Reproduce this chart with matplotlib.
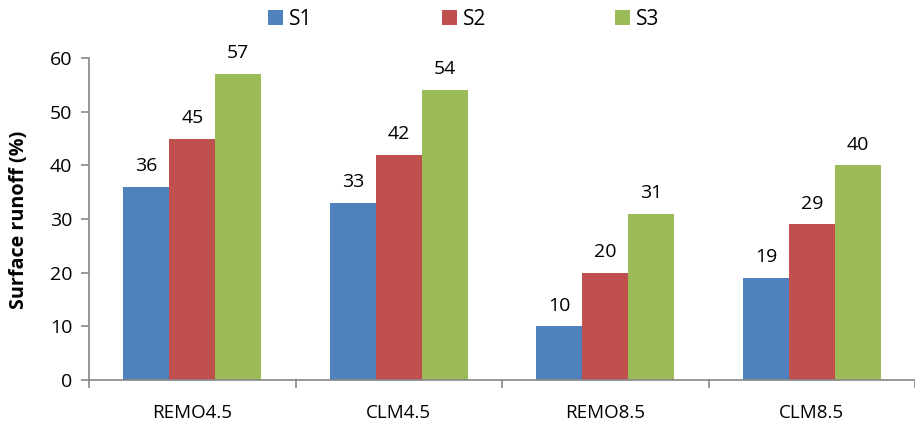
import matplotlib
matplotlib.use("Agg")
import matplotlib.pyplot as plt
import numpy as np

plt.rcParams['font.family'] = ['Open Sans', 'DejaVu Sans']

categories = ["REMO4.5", "CLM4.5", "REMO8.5", "CLM8.5"]
series_names = ["S1", "S2", "S3"]
s1 = [36, 33, 10, 19]
s2 = [45, 42, 20, 29]
s3 = [57, 54, 31, 40]
colors = ["#4F81BD", "#C0504D", "#9BBB59"]
y_ticks = [0, 10, 20, 30, 40, 50, 60]

fig = plt.figure(figsize=(9.15, 4.24), dpi=100)
ax = fig.add_axes([89 / 915, 44 / 424, (915 - 89) / 915, (380 - 58) / 424])

x = np.arange(len(categories))
w = 0.222
handles = []
for i, (vals, name, c) in enumerate(zip([s1, s2, s3], series_names, colors)):
    pos = x + (i - 1) * w
    b = ax.bar(pos, vals, width=w, color=c, label=name, zorder=2)
    handles.append(b)
    for xp, v in zip(pos, vals):
        ax.text(xp, v + 2.2, str(v), ha='center', va='bottom', fontsize=14, color='black')

ax.set_xlim(-0.5, len(categories) - 0.5)
ax.set_ylim(0, 60)
ax.set_yticks(y_ticks)
ax.set_yticklabels([str(t) for t in y_ticks], fontsize=14)
ax.set_xticks(x)
ax.set_xticklabels(categories, fontsize=13.5)
ax.tick_params(axis='x', length=0, pad=17)
ax.tick_params(axis='y', direction='out', length=6, color='#868686', width=1.2, pad=6)

# category separator ticks below the x axis
for xs in np.arange(-0.5, len(categories) + 0.5, 1.0):
    ax.plot([xs, xs], [0, -1.3], color='#868686', lw=1.2, clip_on=False, zorder=3)

for side in ['top', 'right']:
    ax.spines[side].set_visible(False)
for side in ['left', 'bottom']:
    ax.spines[side].set_color('#868686')
    ax.spines[side].set_linewidth(1.2)

fig.text(19 / 915, 1 - 219.5 / 424, "Surface runoff (%)", rotation=90, ha='center', va='center',
         fontsize=14.2, fontweight='bold')

fig.legend(handles=handles, labels=series_names, loc='center', bbox_to_anchor=(464 / 915, 1 - 19.5 / 424),
           ncol=3, frameon=False, fontsize=15, handlelength=0.7, handleheight=0.7,
           handletextpad=0.3, columnspacing=6.2)

fig.savefig("out.png", dpi=100)
